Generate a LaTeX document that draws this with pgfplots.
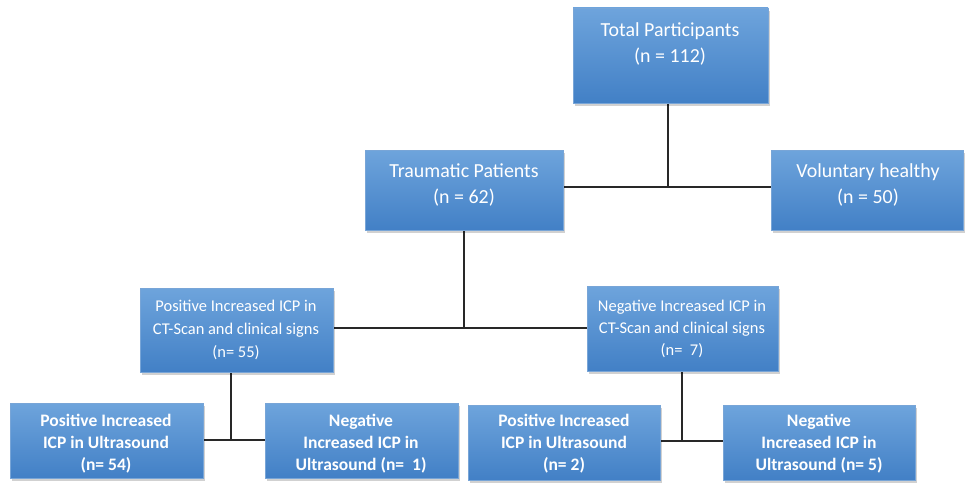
\documentclass[border=0pt]{standalone}
\usepackage{pgfplots}
\pgfplotsset{compat=1.18}
\usepackage{fontspec}
\setmainfont{Carlito}
\definecolor{boxtop}{RGB}{110,164,220}
\definecolor{boxbot}{RGB}{66,128,198}
\definecolor{boxedge}{RGB}{120,165,215}
\definecolor{linec}{RGB}{40,40,40}
\newcommand{\flowbox}[4]{%
  \addplot[draw=none, fill=black, fill opacity=0.18] coordinates {(#1+2,#2+3) (#3+2,#2+3) (#3+2,#4+3) (#1+2,#4+3)} -- cycle;
  \addplot[draw=boxedge, line width=0.6pt, top color=boxtop, bottom color=boxbot] coordinates {(#1,#2) (#3,#2) (#3,#4) (#1,#4)} -- cycle;
}
\begin{document}
\begin{tikzpicture}
\begin{axis}[
  scale only axis, width=967bp, height=483bp,
  xmin=0, xmax=967, ymin=0, ymax=483, y dir=reverse,
  hide axis, clip=false,
]
% frame extent (invisible)
\addplot[draw=none] coordinates {(0,0) (967,483)};
% connecting lines
\addplot[linec, line width=1.1pt] coordinates {(668,103) (668,187)};
\addplot[linec, line width=1.1pt] coordinates {(563,187) (771,187)};
\addplot[linec, line width=1.1pt] coordinates {(464,230) (464,328)};
\addplot[linec, line width=1.1pt] coordinates {(333,328) (587,328)};
\addplot[linec, line width=1.1pt] coordinates {(231,372) (231,440)};
\addplot[linec, line width=1.1pt] coordinates {(203,440) (265,440)};
\addplot[linec, line width=1.1pt] coordinates {(682,371) (682,441)};
\addplot[linec, line width=1.1pt] coordinates {(660,441) (723,441)};
% boxes
\flowbox{573}{8}{768}{103}
\flowbox{365}{150}{563}{230}
\flowbox{771}{150}{963}{230}
\flowbox{140}{288}{333}{372}
\flowbox{587}{286}{778}{371}
\flowbox{10}{403}{203}{478}
\flowbox{265}{403}{458}{478}
\flowbox{468}{405}{660}{480}
\flowbox{723}{405}{915}{480}
% texts
\node[text=white, align=center, font=\fontsize{20}{27}\selectfont] at (axis cs:670,44) {Total Participants\\(n = 112)};
\node[text=white, align=center, font=\fontsize{20}{26}\selectfont] at (axis cs:464,185) {Traumatic Patients\\(n = 62)};
\node[text=white, align=center, font=\fontsize{20}{26}\selectfont] at (axis cs:868,185) {Voluntary healthy\\(n = 50)};
\node[text=white, align=center, font=\fontsize{16.5}{23}\selectfont] at (axis cs:236,330) {Positive Increased ICP in\\CT-Scan and clinical signs\\(n= 55)};
\node[text=white, align=center, font=\fontsize{16.5}{22}\selectfont] at (axis cs:682,329) {Negative Increased ICP in\\CT-Scan and clinical signs\\(n=\ \ 7)};
\node[text=white, align=center, font=\bfseries\fontsize{17.6}{22}\selectfont] at (axis cs:106,444) {Positive Increased\\ICP in Ultrasound\\(n= 54)};
\node[text=white, align=center, font=\bfseries\fontsize{17.6}{22}\selectfont] at (axis cs:361,444) {Negative\\Increased ICP in\\Ultrasound (n=\ \ 1)};
\node[text=white, align=center, font=\bfseries\fontsize{17.6}{22}\selectfont] at (axis cs:564,444) {Positive Increased\\ICP in Ultrasound\\(n= 2)};
\node[text=white, align=center, font=\bfseries\fontsize{17.6}{22}\selectfont] at (axis cs:819,444) {Negative\\Increased ICP in\\Ultrasound (n= 5)};
\end{axis}
\end{tikzpicture}
\end{document}
